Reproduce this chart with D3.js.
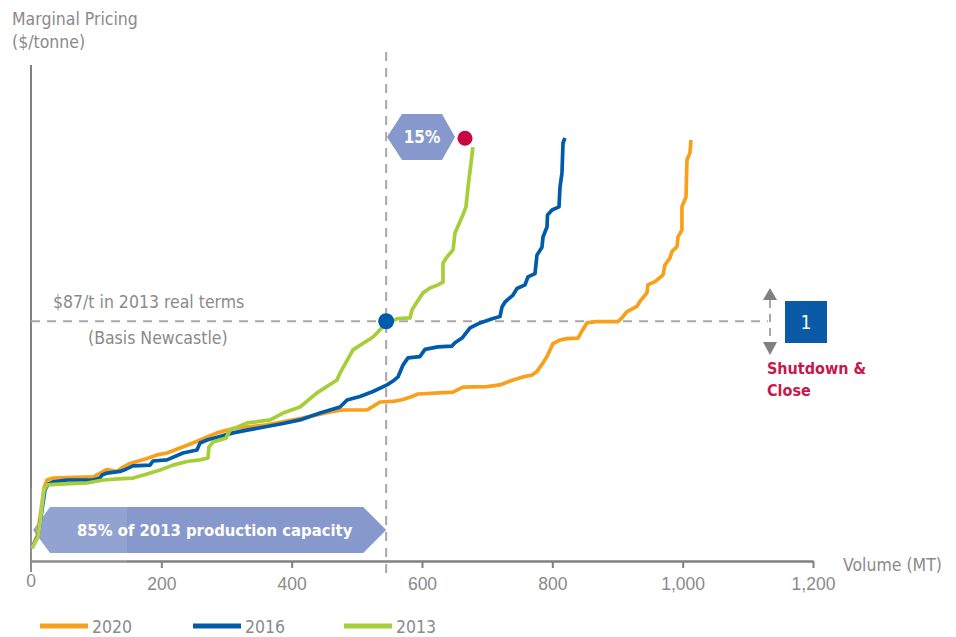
<!DOCTYPE html>
<html>
<head>
<meta charset="utf-8">
<script src="https://cdn.jsdelivr.net/npm/d3@7"></script>
<style>
  html, body { margin: 0; padding: 0; background: #ffffff; }
  svg { display: block; font-family: "Liberation Sans Narrow", "DejaVu Sans Condensed", "Roboto Condensed", sans-serif; }
</style>
</head>
<body>
<svg id="chart" width="956" height="637"></svg>
<script>
// Marginal cost curves: [cumulative volume (MT), marginal price ($/t)]
const series2013 = [
  [1.5,4.7],[10.7,8.7],[13.8,13.8],[16.9,20.0],[19.9,25.8],[24.6,27.6],[44.5,27.9],[85.9,28.3],
  [110.5,29.4],[133.5,29.8],[156.5,30.1],[178,31.6],[198,33.0],[217.9,34.8],[239.4,36.1],[259.3,36.7],
  [271.6,37.4],[273.1,41.4],[279.3,43.2],[299.2,44.6],[305.4,47.5],[331.5,50.1],[367.1,51.2],[386.7,53.7],
  [412.8,55.9],[438.9,61.0],[469.6,65.7],[474.2,68.2],[494.1,76.6],[524.8,81.3],[545.5,86.4],[563.2,88.0],
  [581.6,88.2],[584.6,91.1],[592.3,94.0],[601.5,97.3],[612.3,99.1],[624.5,100.2],[632.2,101.2],[632.2,108.1],
  [638.3,110.3],[647.6,112.9],[650.6,119.0],[661.4,124.8],[667.5,128.5],[670.6,135.7],[675.2,144.4],[678.2,150.2]
];
const series2016 = [
  [1.5,4.7],[10.7,9.1],[16.9,18.5],[21.5,25.8],[26.1,27.9],[33.8,28.7],[55.2,29.4],[95.1,29.4],
  [105.9,30.1],[109,31.2],[116.6,31.9],[136.6,32.5],[142.7,33.0],[156.5,34.5],[182.6,34.8],[187.2,36.3],
  [208.7,36.7],[233.2,39.2],[254.7,40.3],[259.3,42.8],[270.1,43.9],[290,45.2],[310,46.5],[331.5,47.5],
  [362.1,48.8],[386.7,49.9],[412.8,51.2],[443.5,53.7],[474.2,55.9],[484.9,58.4],[504.9,59.7],[524.8,61.5],
  [546.3,63.9],[555.5,65.3],[563.2,66.8],[570.8,71.1],[578.5,73.7],[596.9,74.2],[604.6,76.8],[624.5,77.7],
  [646.0,78.0],[650.6,79.2],[661.4,80.9],[673.7,84.6],[689.0,86.4],[709.0,88.0],[719.7,88.7],[722.8,92.2],
  [727.4,94.0],[739.6,96.5],[745.8,98.9],[758.1,100.2],[762.6,103.1],[773.4,104.3],[776.4,111.0],[784.1,113.9],
  [785.7,117.6],[791.8,121.2],[792.6,125.6],[799.5,127.4],[810.2,128.5],[811.8,135.7],[814.8,140.8],[816.4,151.7],
  [819.4,153.5]
];
const series2020 = [
  [1.5,4.7],[9.2,9.1],[15.3,18.5],[19.9,26.5],[24.6,29.4],[33.8,30.1],[55.2,30.3],[95.1,30.5],
  [101.3,31.2],[105.9,31.9],[116.6,33.2],[132,32.5],[141.2,34.1],[151.9,35.4],[178,37.2],[193.3,38.5],
  [208.7,39.2],[228.6,41.0],[248.6,42.8],[259.3,43.9],[285.4,46.5],[310,48.1],[362.1,49.4],[412.8,51.7],
  [463.4,54.3],[478.8,54.8],[515.6,54.8],[524.8,56.1],[535.6,57.7],[555.5,57.9],[570.8,58.6],[584.6,59.7],
  [593.9,60.6],[647.6,61.3],[662.9,63.1],[699.7,63.3],[719.7,63.9],[739.6,65.7],[755.0,66.8],[768.8,67.5],
  [776.4,68.8],[785.7,71.9],[791.8,74.2],[796.4,76.6],[801.0,78.9],[811.8,80.2],[822.5,80.7],[839.4,80.9],
  [845.5,83.5],[853.1,86.4],[868.5,86.9],[900.7,86.9],[906.8,88.2],[914.5,90.5],[929.8,92.4],[934.4,94.2],
  [945.2,97.3],[946.7,100.2],[957.5,101.4],[969.8,103.8],[972.8,107.4],[980.5,110.0],[983.6,112.3],[991.3,114.1],
  [992.8,117.6],[998.9,120.1],[998.9,128.5],[1005.1,132.1],[1006.6,145.5],[1011.2,148.1],[1012.7,152.8]
];

const seriesNames = ["2020", "2016", "2013"];
const seriesColors = ["#f8a01c", "#005baa", "#a6ce39"];
const xTicks = [200, 400, 600, 800, 1000, 1200];

const basisPrice = 87;          // $/t, 2013 real terms
const capacity85 = 545;         // MT, 85% of 2013 production capacity
const topPoint = [666, 153.4];  // last 15% of 2013 capacity

const svg = d3.select("#chart");
const x = d3.scaleLinear().domain([0, 1200]).range([31, 813]);
const y = d3.scaleLinear().domain([0, 180]).range([561, 65]);

const grey = "#8a8a8a";
const axisGrey = "#808080";
const fs = 17.5;

// axis titles
svg.append("text").attr("x", 12).attr("y", 25).attr("fill", grey)
  .attr("font-size", fs).text("Marginal Pricing");
svg.append("text").attr("x", 12).attr("y", 48).attr("fill", grey)
  .attr("font-size", fs).text("($/tonne)");
svg.append("text").attr("x", 843).attr("y", 571).attr("fill", grey)
  .attr("font-size", fs).text("Volume (MT)");

// y axis line
svg.append("line").attr("x1", x(0)).attr("x2", x(0)).attr("y1", 65).attr("y2", 572)
  .attr("stroke", axisGrey).attr("stroke-width", 2);

// x axis
const xAxis = d3.axisBottom(x).tickValues(xTicks).tickSize(7).tickSizeOuter(0)
  .tickFormat(d3.format(","));
const gx = svg.append("g").attr("transform", `translate(0,${y(0)})`).call(xAxis);
gx.select(".domain").attr("stroke", axisGrey).attr("stroke-width", 2.5);
gx.selectAll(".tick line").attr("stroke", axisGrey).attr("stroke-width", 2);
gx.selectAll(".tick text").attr("fill", grey).attr("font-size", fs)
  .attr("font-family", null).attr("dy", "1.1em");
gx.append("text").attr("x", x(0)).attr("y", 7).attr("dy", "1.1em")
  .attr("text-anchor", "middle").attr("fill", grey).attr("font-size", fs).text("0");

// reference lines
svg.append("line").attr("x1", x(0)).attr("x2", 768).attr("y1", y(basisPrice)).attr("y2", y(basisPrice))
  .attr("stroke", "#a8a8a8").attr("stroke-width", 2).attr("stroke-dasharray", "9,7");
svg.append("line").attr("x1", x(capacity85)).attr("x2", x(capacity85)).attr("y1", 52).attr("y2", 576)
  .attr("stroke", "#a8a8a8").attr("stroke-width", 2).attr("stroke-dasharray", "9,7");

svg.append("text").attr("x", 53).attr("y", 308).attr("fill", grey).attr("font-size", fs)
  .text("$87/t in 2013 real terms");
svg.append("text").attr("x", 88).attr("y", 344).attr("fill", grey).attr("font-size", fs)
  .text("(Basis Newcastle)");

// 85% arrow banner
const ay = 530, ah = 23;
const arrowPts = [
  [x(0) + 2, ay], [x(0) + 19, ay - ah], [x(capacity85) - 23, ay - ah],
  [x(capacity85), ay], [x(capacity85) - 23, ay + ah], [x(0) + 19, ay + ah]
];
svg.append("polygon").attr("points", arrowPts.map(p => p.join(",")).join(" "))
  .attr("fill", "#8799cc");
svg.append("text").attr("x", 77).attr("y", ay + 6).attr("fill", "#ffffff")
  .attr("font-size", 16.5).attr("font-weight", "bold")
  .text("85% of 2013 production capacity");

// supply curves
const line = d3.line().x(d => x(d[0])).y(d => y(d[1]));
const allSeries = [series2020, series2016, series2013];
allSeries.forEach((s, i) => {
  svg.append("path").datum(s).attr("d", line)
    .attr("fill", "none").attr("stroke", seriesColors[i])
    .attr("stroke-width", 3.7).attr("stroke-linejoin", "round");
});

// faded corner near the origin
svg.append("rect").attr("x", 29).attr("y", 488).attr("width", 98).attr("height", 90)
  .attr("fill", "#ffffff").attr("opacity", 0.1);

// 85% marker on the 2013 curve
svg.append("circle").attr("cx", x(capacity85)).attr("cy", y(basisPrice)).attr("r", 8)
  .attr("fill", "#005baa");

// 15% hexagon and top marker
const hx = 424, hy = 137;
const hexPts = [[hx - 37, hy], [hx - 22, hy - 23], [hx + 18, hy - 23], [hx + 31, hy], [hx + 18, hy + 23], [hx - 22, hy + 23]];
svg.append("polygon").attr("points", hexPts.map(p => p.join(",")).join(" "))
  .attr("fill", "#8799cc");
svg.append("text").attr("x", hx - 2).attr("y", hy + 6).attr("text-anchor", "middle")
  .attr("fill", "#ffffff").attr("font-size", 17).attr("font-weight", "bold").text("15%");
svg.append("circle").attr("cx", x(topPoint[0])).attr("cy", y(topPoint[1])).attr("r", 7.5)
  .attr("fill", "#c8093f");

// shutdown marker
const mx = 770;
svg.append("path").attr("d", `M${mx - 7},300 L${mx},288 L${mx + 7},300 Z`).attr("fill", axisGrey);
svg.append("path").attr("d", `M${mx - 7},342 L${mx},355 L${mx + 7},342 Z`).attr("fill", axisGrey);
svg.append("line").attr("x1", mx).attr("x2", mx).attr("y1", 300).attr("y2", 342)
  .attr("stroke", "#a8a8a8").attr("stroke-width", 2).attr("stroke-dasharray", "8,6");
svg.append("rect").attr("x", 785).attr("y", 301).attr("width", 42).attr("height", 42)
  .attr("fill", "#0a5aa8");
svg.append("text").attr("x", 806).attr("y", 329).attr("text-anchor", "middle")
  .attr("fill", "#ffffff").attr("font-size", 19).text("1");
svg.append("text").attr("x", 767).attr("y", 374).attr("fill", "#c8174b")
  .attr("font-size", 16).attr("font-weight", "bold").text("Shutdown &");
svg.append("text").attr("x", 767).attr("y", 396).attr("fill", "#c8174b")
  .attr("font-size", 16).attr("font-weight", "bold").text("Close");

// legend
const legendX = [40, 193, 344];
seriesNames.forEach((name, i) => {
  const g = svg.append("g").attr("transform", `translate(${legendX[i]},626)`);
  g.append("rect").attr("x", 0).attr("y", -2.5).attr("width", 48).attr("height", 5)
    .attr("fill", seriesColors[i]);
  g.append("text").attr("x", 52).attr("y", 7).attr("fill", grey).attr("font-size", fs).text(name);
});
</script>
</body>
</html>
